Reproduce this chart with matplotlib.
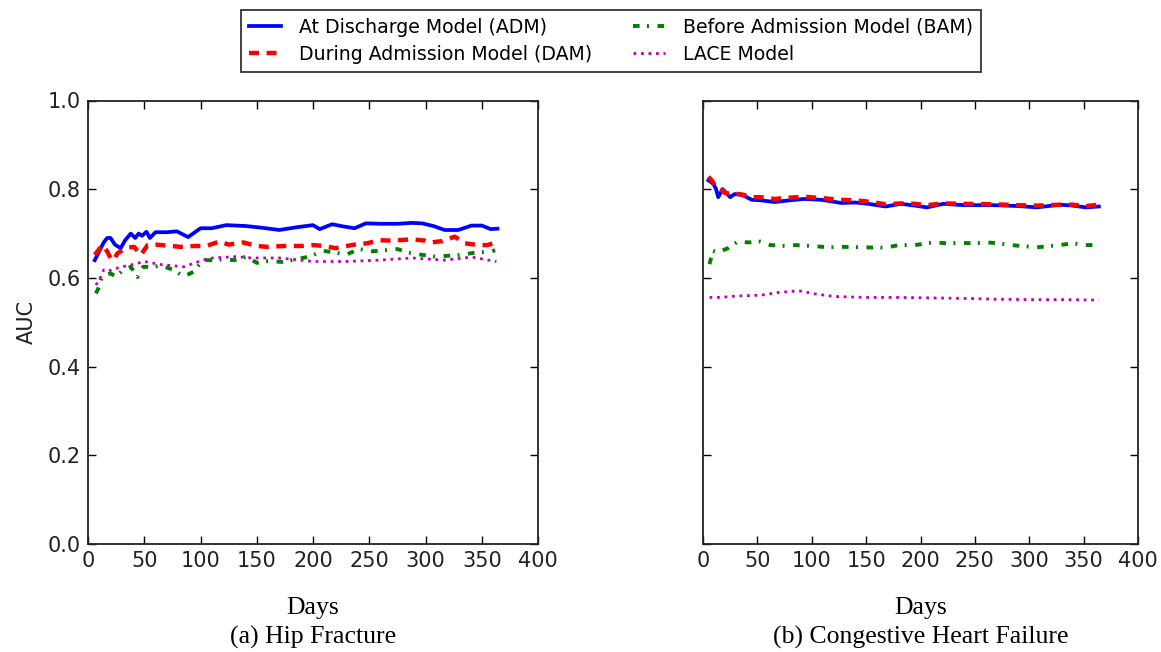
import matplotlib
matplotlib.use("Agg")
import matplotlib.pyplot as plt

plt.rcParams["font.family"] = ["DejaVu Sans"]

# ---- data ----
# (a) Hip Fracture
hip_adm_days = [6, 10, 14, 17, 20, 24, 29, 33, 38, 42, 45, 48, 52, 55, 60, 70, 79, 89, 100, 110,
                123, 140, 155, 170, 185, 200, 206, 217, 227, 237, 247, 260, 275, 288, 297, 307,
                317, 329, 341, 350, 358, 364]
hip_adm_auc = [0.64, 0.66, 0.68, 0.69, 0.69, 0.675, 0.667, 0.685, 0.70, 0.69, 0.70, 0.695, 0.704,
               0.69, 0.703, 0.703, 0.705, 0.692, 0.712, 0.712, 0.719, 0.717, 0.713, 0.708, 0.714,
               0.719, 0.710, 0.721, 0.716, 0.712, 0.723, 0.722, 0.722, 0.724, 0.723, 0.717, 0.708,
               0.708, 0.718, 0.718, 0.710, 0.711]

hip_dam_days = [6, 10, 13, 17, 20, 23, 26, 29, 35, 41, 47, 53, 60, 70, 82, 95, 105, 117, 125, 138,
                150, 159, 175, 190, 200, 210, 220, 230, 237, 248, 259, 270, 288, 300, 305, 315,
                326, 335, 347, 355, 362]
hip_dam_auc = [0.652, 0.665, 0.674, 0.66, 0.645, 0.64, 0.655, 0.66, 0.668, 0.67, 0.652, 0.674,
               0.675, 0.673, 0.670, 0.672, 0.672, 0.682, 0.675, 0.680, 0.672, 0.670, 0.672, 0.672,
               0.674, 0.672, 0.667, 0.672, 0.675, 0.678, 0.685, 0.684, 0.687, 0.684, 0.680, 0.683,
               0.693, 0.678, 0.674, 0.674, 0.679]

hip_bam_days = [7, 9, 12, 15, 20, 25, 30, 38, 44, 49, 58, 65, 76, 85, 94, 102, 112, 120, 130, 141,
                150, 160, 173, 185, 197, 209, 220, 229, 241, 253, 263, 275, 285, 297, 309, 320,
                332, 344, 356, 362]
hip_bam_auc = [0.565, 0.575, 0.60, 0.607, 0.61, 0.603, 0.615, 0.625, 0.602, 0.625, 0.625, 0.628,
               0.618, 0.603, 0.614, 0.64, 0.64, 0.642, 0.64, 0.648, 0.634, 0.638, 0.636, 0.642,
               0.648, 0.661, 0.657, 0.652, 0.665, 0.66, 0.662, 0.665, 0.657, 0.652, 0.648, 0.650,
               0.652, 0.657, 0.659, 0.662]

hip_lace_days = [7, 10, 14, 18, 23, 30, 38, 50, 65, 85, 102, 111, 132, 145, 170, 200, 229, 259,
                 288, 317, 341, 363]
hip_lace_auc = [0.584, 0.595, 0.618, 0.615, 0.62, 0.625, 0.629, 0.637, 0.63, 0.625, 0.64, 0.645,
                0.648, 0.645, 0.645, 0.637, 0.637, 0.64, 0.645, 0.64, 0.647, 0.637]

# (b) Congestive Heart Failure
chf_adm_days = [5, 8, 10, 12, 14, 18, 22, 25, 29, 36, 45, 53, 66, 80, 93, 109, 127, 140, 152, 168,
                182, 195, 206, 221, 240, 267, 290, 307, 328, 340, 352, 364]
chf_adm_auc = [0.82, 0.815, 0.81, 0.80, 0.782, 0.80, 0.79, 0.782, 0.789, 0.787, 0.776, 0.775,
               0.771, 0.775, 0.778, 0.776, 0.769, 0.770, 0.767, 0.761, 0.767, 0.763, 0.759, 0.767,
               0.764, 0.764, 0.762, 0.759, 0.765, 0.763, 0.759, 0.761]

chf_dam_days = [5, 8, 12, 16, 20, 25, 30, 36, 45, 53, 66, 80, 93, 109, 127, 140, 152, 168, 182,
                195, 206, 221, 240, 267, 290, 307, 328, 340, 352, 364]
chf_dam_auc = [0.828, 0.82, 0.805, 0.80, 0.792, 0.79, 0.79, 0.788, 0.782, 0.782, 0.778, 0.781,
               0.783, 0.780, 0.776, 0.775, 0.772, 0.766, 0.768, 0.767, 0.764, 0.768, 0.767, 0.766,
               0.764, 0.763, 0.765, 0.765, 0.762, 0.765]

chf_bam_days = [6, 9, 14, 18, 23, 32, 42, 53, 62, 75, 85, 100, 115, 130, 146, 168, 180, 195, 212,
                225, 237, 250, 261, 272, 283, 307, 328, 340, 352, 362]
chf_bam_auc = [0.631, 0.661, 0.657, 0.662, 0.667, 0.682, 0.680, 0.682, 0.674, 0.672, 0.674, 0.672,
               0.669, 0.670, 0.669, 0.668, 0.674, 0.674, 0.68, 0.678, 0.679, 0.678, 0.680, 0.678,
               0.674, 0.669, 0.674, 0.678, 0.674, 0.674]

chf_lace_days = [6, 16, 30, 53, 69, 88, 103, 121, 150, 176, 237, 268, 300, 330, 364]
chf_lace_auc = [0.556, 0.556, 0.559, 0.561, 0.567, 0.571, 0.564, 0.558, 0.556, 0.556, 0.554,
                0.552, 0.551, 0.551, 0.55]

model_labels = ["At Discharge Model (ADM)", "During Admission Model (DAM)",
                "Before Admission Model (BAM)", "LACE Model"]
panel_titles = ["(a) Hip Fracture", "(b) Congestive Heart Failure"]
x_ticks = [0, 50, 100, 150, 200, 250, 300, 350, 400]
y_ticks = [0.0, 0.2, 0.4, 0.6, 0.8, 1.0]

# line styles per model
STYLES = [
    dict(color="#0000ff", lw=2.7, linestyle="-"),
    dict(color="#ff0000", lw=3.2, dashes=(2.25, 1.7)),
    dict(color="#008000", lw=2.8, dashes=(1.7, 1.9, 0.5, 2.2)),
    dict(color="#bf00bf", lw=2.0, dashes=(1.0, 1.7)),
]

W, H = 1161, 652
fig = plt.figure(figsize=(W / 100, H / 100), dpi=100)

def px_axes(x0, x1, ytop, ybot):
    return fig.add_axes([x0 / W, 1 - ybot / H, (x1 - x0) / W, (ybot - ytop) / H])

ax1 = px_axes(88, 538, 100.5, 544)
ax2 = px_axes(703, 1138, 100.5, 544)

panels = [
    (ax1, [(hip_adm_days, hip_adm_auc), (hip_dam_days, hip_dam_auc),
           (hip_bam_days, hip_bam_auc), (hip_lace_days, hip_lace_auc)]),
    (ax2, [(chf_adm_days, chf_adm_auc), (chf_dam_days, chf_dam_auc),
           (chf_bam_days, chf_bam_auc), (chf_lace_days, chf_lace_auc)]),
]

handles = []
for i, (ax, series) in enumerate(panels):
    for j, (d, v) in enumerate(series):
        ln, = ax.plot(d, v, label=model_labels[j], **STYLES[j])
        if i == 0:
            handles.append(ln)
    ax.set_xlim(0, 400)
    ax.set_ylim(0, 1.0)
    ax.set_xticks(x_ticks)
    ax.set_yticks(y_ticks)
    ax.tick_params(direction="in", top=True, right=True, length=6, width=1,
                   labelsize=15, labelcolor="#222222", pad=5)
    for s in ax.spines.values():
        s.set_linewidth(1.3)
        s.set_color("#222222")

ax1.set_yticklabels([f"{t:.1f}" for t in y_ticks])
ax2.tick_params(labelleft=False)
ax1.set_ylabel("AUC", fontsize=15, color="#222222", labelpad=8)

serif = "Liberation Serif"
for ax, title in zip([ax1, ax2], panel_titles):
    pos = ax.get_position()
    cx = (pos.x0 + pos.x1) / 2
    fig.text(cx, 1 - 608 / H, "Days", ha="center", va="center", family=serif, fontsize=18.5)
    fig.text(cx, 1 - 637 / H, title, ha="center", va="center", family=serif, fontsize=18.5)

leg = fig.legend(handles, model_labels,
                 loc="upper center", bbox_to_anchor=(611 / W, 1 - 10 / H), ncol=2,
                 fontsize=13.6, frameon=True, fancybox=False, edgecolor="black",
                 handlelength=1.7, handletextpad=0.95, columnspacing=2.2,
                 labelspacing=0.45, borderpad=0.4, borderaxespad=0)
leg.get_frame().set_linewidth(1.3)

fig.savefig("out.png", dpi=100)
